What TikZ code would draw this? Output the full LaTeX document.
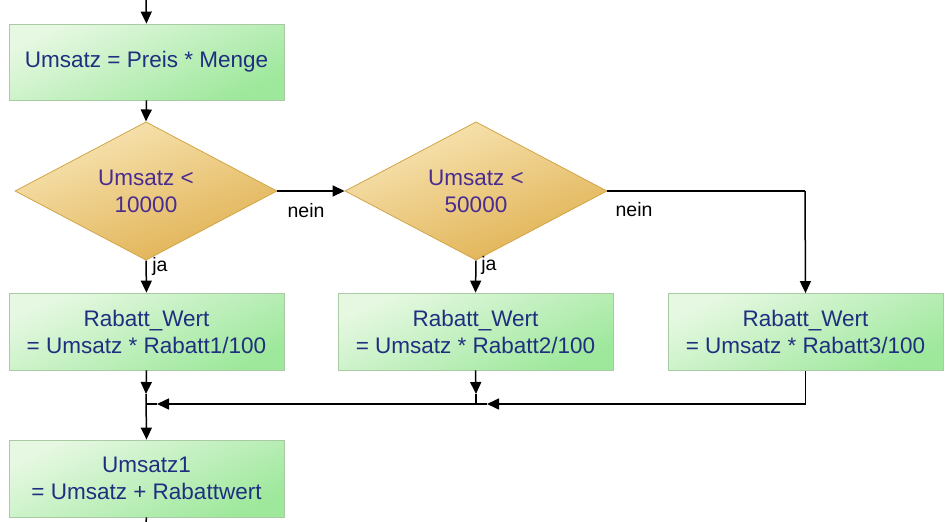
\documentclass[tikz,border=0pt]{standalone}
\usepackage{fontspec}
\setmainfont{Liberation Sans}
\usetikzlibrary{shapes.geometric,arrows.meta}
\definecolor{boxtext}{HTML}{1F2F80}
\definecolor{dtext}{HTML}{4A2C90}
\definecolor{gA}{HTML}{E6F8E2}
\definecolor{gB}{HTML}{9EE89C}
\definecolor{gBorder}{HTML}{A9CBA3}
\definecolor{yA}{HTML}{F8E6B6}
\definecolor{yB}{HTML}{E0B050}
\definecolor{yBorder}{HTML}{D2A548}
\begin{document}
\begin{tikzpicture}[x=1pt,y=-1pt,
  stepbox/.style={rectangle,draw=gBorder,line width=0.8pt,top color=gA,bottom color=gB,shading angle=25,
    minimum width=275pt,minimum height=76pt,inner sep=0pt,align=center,
    text=boxtext,font=\fontsize{22.5}{27}\selectfont},
  decision/.style={diamond,draw=yBorder,line width=0.8pt,top color=yA,bottom color=yB,shading angle=20,
    minimum width=262pt,minimum height=110pt,inner sep=0pt,align=center,
    text=dtext,font=\fontsize{22.5}{27}\selectfont},
  conn/.style={line width=1.5pt,black},
  arr/.style={conn,-{Triangle[length=12pt,width=11pt]}},
  lbl/.style={font=\fontsize{19.5}{21}\selectfont,text=black,inner sep=0pt}]
\useasboundingbox (0,0) rectangle (948,522);
\node[stepbox] (b0) at (146.5,62) {Umsatz = Preis * Menge};
\node[decision] (d1) at (146,191) {Umsatz <\\10000};
\node[decision] (d2) at (476,191) {Umsatz <\\50000};
\node[stepbox,minimum height=77pt] (r1) at (146.5,331.5) {Rabatt\_Wert\\= Umsatz * Rabatt1/100};
\node[stepbox,minimum height=77pt] (r2) at (475.5,331.5) {Rabatt\_Wert\\= Umsatz * Rabatt2/100};
\node[stepbox,minimum height=77pt] (r3) at (805.5,332) {Rabatt\_Wert\\= Umsatz * Rabatt3/100};
\node[stepbox,minimum height=77pt] (u1) at (146.5,478.5) {Umsatz1\\= Umsatz + Rabattwert};
\coordinate (top) at (146,0);
\coordinate (c1) at (805,191);
\coordinate (a1) at (146,394);
\coordinate (a2) at (476,394);
\coordinate (j1) at (146,404);
\coordinate (j2) at (476,404);
\coordinate (m1) at (157,404);
\coordinate (m2) at (487,404);
\coordinate (bot) at (146,522);
\draw[arr] (top) -- (b0.north);
\draw[arr] (b0.south) -- (d1.north);
\draw[arr] (d1.east) -- (d2.west);
\draw[conn] (d2.east) -- (c1);
\draw[arr] (c1) -- (r3.north);
\draw[arr] (d1.south) -- (r1.north);
\draw[arr] (d2.south) -- (r2.north);
\draw[arr] (r1.south) -- (a1);
\draw[arr] (a1) -- (u1.north);
\draw[arr] (r2.south) -- (a2);
\draw[conn] (a2) -- (j2);
\draw[arr] (r3.south) |- (m2);
\draw[arr] (m2) -- (m1);
\draw[conn] (m1) -- (j1);
\draw[conn] (u1.south) -- (bot);
\node[lbl] (n1) at (306,211) {nein};
\node[lbl] (n2) at (634,210) {nein};
\node[lbl] (y1) at (160,266) {ja};
\node[lbl] (y2) at (489,265) {ja};
\end{tikzpicture}
\end{document}
